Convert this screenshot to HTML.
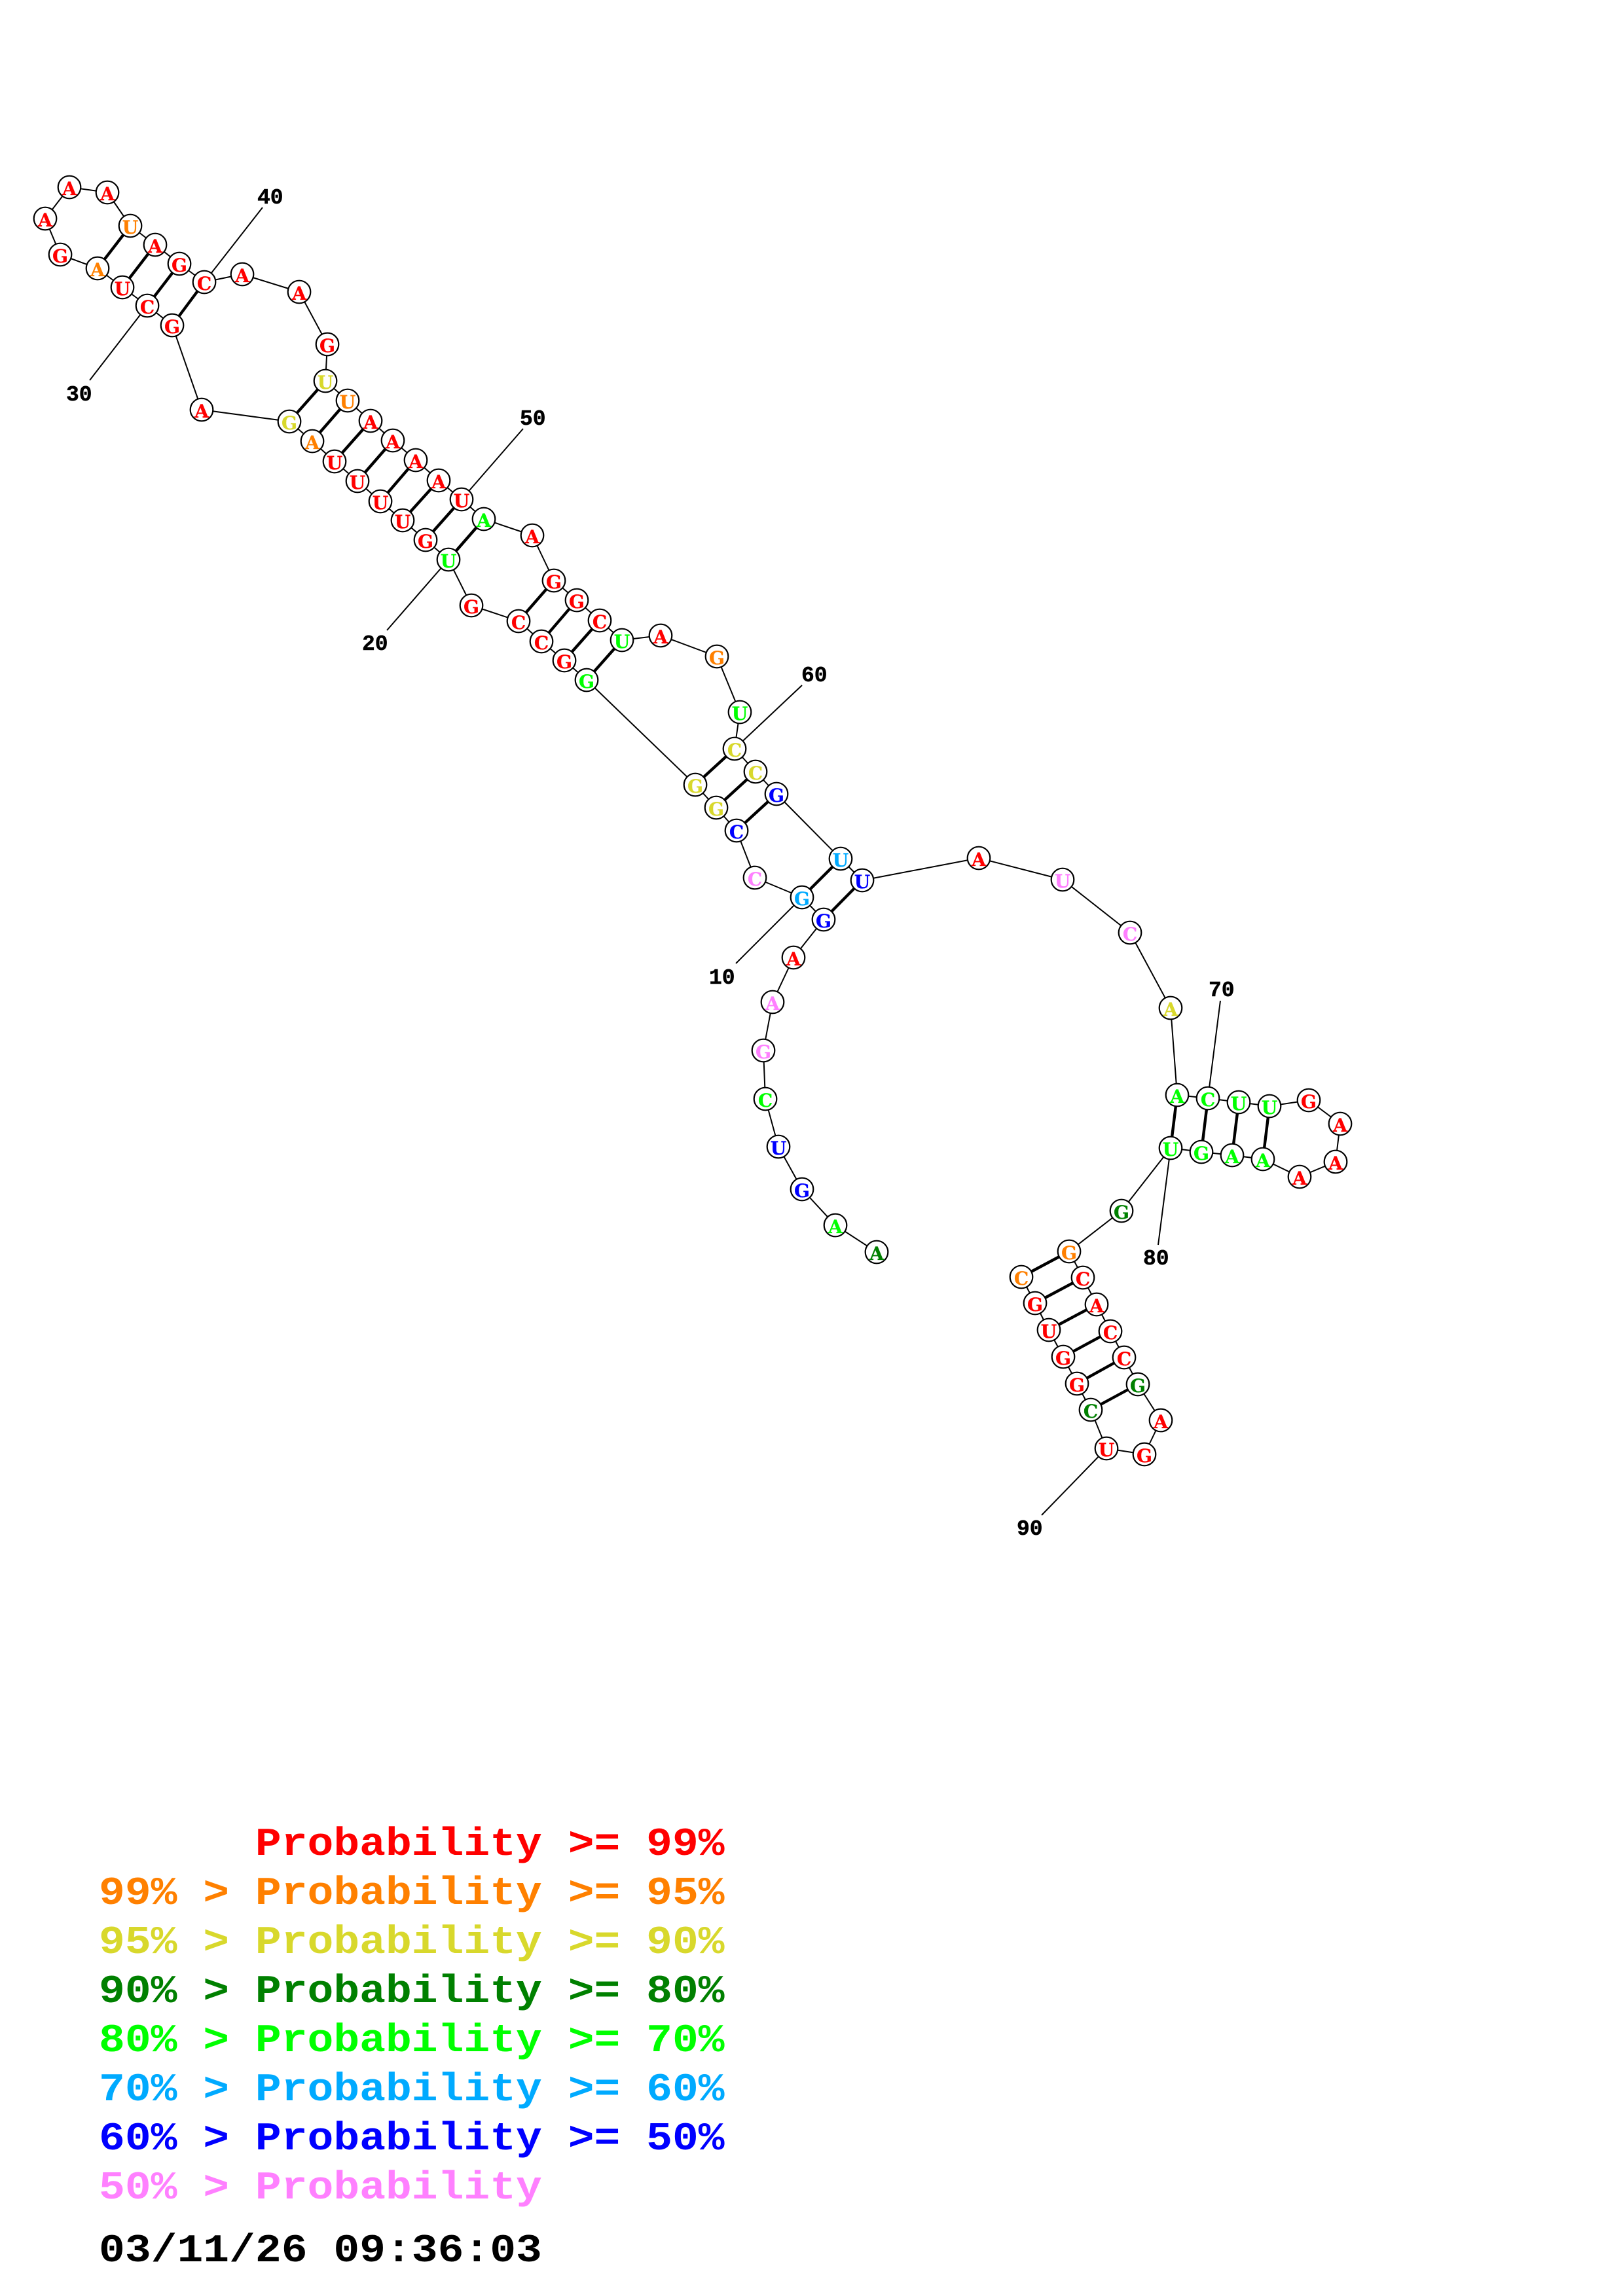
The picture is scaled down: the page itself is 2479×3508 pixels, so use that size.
<!DOCTYPE html>
<html>
<head>
<meta charset="utf-8">
<style>
html,body{margin:0;padding:0;background:#fff;}
svg{display:block;}
.thin{fill:none;stroke:#000;stroke-width:2;stroke-linejoin:round;}
.thick{fill:none;stroke:#000;stroke-width:4.4;}
.nodes circle{fill:#fff;stroke:#000;stroke-width:2.2;r:17.3px;}
.let text{font-family:"DejaVu Serif","Liberation Serif",serif;font-weight:bold;font-size:28px;text-anchor:middle;stroke-width:.3;}
.num text{font-family:"Liberation Mono",monospace;font-weight:bold;font-size:33px;fill:#000;stroke:#000;stroke-width:.5;}
.leg text{font-family:"Liberation Mono",monospace;font-weight:bold;font-size:60px;white-space:pre;}
.r{fill:#ff0000;stroke:#ff0000;}
.o{fill:#ff8000;stroke:#ff8000;}
.y{fill:#d8d82c;stroke:#d8d82c;}
.d{fill:#008000;stroke:#008000;}
.g{fill:#00ff00;stroke:#00ff00;}
.s{fill:#00aaff;stroke:#00aaff;}
.b{fill:#0000ff;stroke:#0000ff;}
.p{fill:#ff80ff;stroke:#ff80ff;}
</style>
</head>
<body>
<svg xmlns="http://www.w3.org/2000/svg" width="2479" height="3508" viewBox="0 0 2479 3508">
<rect width="2479" height="3508" fill="#fff"/>
<polyline class="thin" points="1339,1913 1276,1872 1225,1817 1189,1752 1169,1679 1166,1605 1180,1531 1212,1463 1258,1405 1225,1371 1153,1341 1125,1269 1094,1234 1062,1199 896,1039 862,1009 827,980 792,949 720,925 685,855 650,825 615,795 581,766 546,735 511,705 477,674 442,644 308,626 263,497 225,467 187,439 149,410 92,389 69,334 106,286 164,294 199,345 237,374 274,403 312,431 370,419 457,446 500,526 497,582 531,612 566,643 600,673 635,703 670,734 705,763 739,793 813,818 846,887 881,917 916,948 950,978 1009,971 1095,1003 1130,1088 1122,1144 1154,1179 1186,1213 1284,1312 1317,1345 1495,1311 1623,1344 1726,1425 1788,1540 1798,1673 1845,1678 1892,1684 1939,1690 1999,1681 2047,1717 2040,1775 1985,1798 1929,1771 1882,1765 1835,1760 1788,1754 1713,1850 1633,1912 1654,1952 1675,1993 1696,2034 1717,2074 1738,2115 1773,2170 1748,2222 1690,2213 1666,2154 1645,2114 1624,2073 1602,2032 1581,1991 1560,1951"/>
<path class="thin" d="M1225,1371L1124,1472M685,855L591,963M225,467L137,581M312,431L401,317M705,763L799,655M1122,1144L1225,1047M1845,1678L1864,1529M1788,1754L1769,1902M1690,2213L1591,2315"/>
<path class="thick" d="M1258,1405L1317,1345M1225,1371L1284,1312M1125,1269L1186,1213M1094,1234L1154,1179M1062,1199L1122,1144M896,1039L950,978M862,1009L916,948M827,980L881,917M792,949L846,887M685,855L739,793M650,825L705,763M615,795L670,734M581,766L635,703M546,735L600,673M511,705L566,643M477,674L531,612M442,644L497,582M263,497L312,431M225,467L274,403M187,439L237,374M149,410L199,345M1798,1673L1788,1754M1845,1678L1835,1760M1892,1684L1882,1765M1939,1690L1929,1771M1633,1912L1560,1951M1654,1952L1581,1991M1675,1993L1602,2032M1696,2034L1624,2073M1717,2074L1645,2114M1738,2115L1666,2154"/>
<g class="nodes">
<circle cx="1339" cy="1913" r="18"/><circle cx="1276" cy="1872" r="18"/><circle cx="1225" cy="1817" r="18"/><circle cx="1189" cy="1752" r="18"/><circle cx="1169" cy="1679" r="18"/><circle cx="1166" cy="1605" r="18"/><circle cx="1180" cy="1531" r="18"/><circle cx="1212" cy="1463" r="18"/><circle cx="1258" cy="1405" r="18"/><circle cx="1225" cy="1371" r="18"/><circle cx="1153" cy="1341" r="18"/><circle cx="1125" cy="1269" r="18"/><circle cx="1094" cy="1234" r="18"/><circle cx="1062" cy="1199" r="18"/><circle cx="896" cy="1039" r="18"/><circle cx="862" cy="1009" r="18"/><circle cx="827" cy="980" r="18"/><circle cx="792" cy="949" r="18"/><circle cx="720" cy="925" r="18"/><circle cx="685" cy="855" r="18"/><circle cx="650" cy="825" r="18"/><circle cx="615" cy="795" r="18"/><circle cx="581" cy="766" r="18"/><circle cx="546" cy="735" r="18"/><circle cx="511" cy="705" r="18"/><circle cx="477" cy="674" r="18"/><circle cx="442" cy="644" r="18"/><circle cx="308" cy="626" r="18"/><circle cx="263" cy="497" r="18"/><circle cx="225" cy="467" r="18"/><circle cx="187" cy="439" r="18"/><circle cx="149" cy="410" r="18"/><circle cx="92" cy="389" r="18"/><circle cx="69" cy="334" r="18"/><circle cx="106" cy="286" r="18"/><circle cx="164" cy="294" r="18"/><circle cx="199" cy="345" r="18"/><circle cx="237" cy="374" r="18"/><circle cx="274" cy="403" r="18"/><circle cx="312" cy="431" r="18"/><circle cx="370" cy="419" r="18"/><circle cx="457" cy="446" r="18"/><circle cx="500" cy="526" r="18"/><circle cx="497" cy="582" r="18"/><circle cx="531" cy="612" r="18"/><circle cx="566" cy="643" r="18"/><circle cx="600" cy="673" r="18"/><circle cx="635" cy="703" r="18"/><circle cx="670" cy="734" r="18"/><circle cx="705" cy="763" r="18"/><circle cx="739" cy="793" r="18"/><circle cx="813" cy="818" r="18"/><circle cx="846" cy="887" r="18"/><circle cx="881" cy="917" r="18"/><circle cx="916" cy="948" r="18"/><circle cx="950" cy="978" r="18"/><circle cx="1009" cy="971" r="18"/><circle cx="1095" cy="1003" r="18"/><circle cx="1130" cy="1088" r="18"/><circle cx="1122" cy="1144" r="18"/><circle cx="1154" cy="1179" r="18"/><circle cx="1186" cy="1213" r="18"/><circle cx="1284" cy="1312" r="18"/><circle cx="1317" cy="1345" r="18"/><circle cx="1495" cy="1311" r="18"/><circle cx="1623" cy="1344" r="18"/><circle cx="1726" cy="1425" r="18"/><circle cx="1788" cy="1540" r="18"/><circle cx="1798" cy="1673" r="18"/><circle cx="1845" cy="1678" r="18"/><circle cx="1892" cy="1684" r="18"/><circle cx="1939" cy="1690" r="18"/><circle cx="1999" cy="1681" r="18"/><circle cx="2047" cy="1717" r="18"/><circle cx="2040" cy="1775" r="18"/><circle cx="1985" cy="1798" r="18"/><circle cx="1929" cy="1771" r="18"/><circle cx="1882" cy="1765" r="18"/><circle cx="1835" cy="1760" r="18"/><circle cx="1788" cy="1754" r="18"/><circle cx="1713" cy="1850" r="18"/><circle cx="1633" cy="1912" r="18"/><circle cx="1654" cy="1952" r="18"/><circle cx="1675" cy="1993" r="18"/><circle cx="1696" cy="2034" r="18"/><circle cx="1717" cy="2074" r="18"/><circle cx="1738" cy="2115" r="18"/><circle cx="1773" cy="2170" r="18"/><circle cx="1748" cy="2222" r="18"/><circle cx="1690" cy="2213" r="18"/><circle cx="1666" cy="2154" r="18"/><circle cx="1645" cy="2114" r="18"/><circle cx="1624" cy="2073" r="18"/><circle cx="1602" cy="2032" r="18"/><circle cx="1581" cy="1991" r="18"/><circle cx="1560" cy="1951" r="18"/>
</g>
<g class="let">
<text x="1339" y="1925" class="d">A</text><text x="1276" y="1884" class="g">A</text><text x="1225" y="1829" class="b">G</text><text x="1189" y="1764" class="b">U</text><text x="1169" y="1691" class="g">C</text><text x="1166" y="1617" class="p">G</text><text x="1180" y="1543" class="p">A</text><text x="1212" y="1475" class="r">A</text><text x="1258" y="1417" class="b">G</text><text x="1225" y="1383" class="s">G</text><text x="1153" y="1353" class="p">C</text><text x="1125" y="1281" class="b">C</text><text x="1094" y="1246" class="y">G</text><text x="1062" y="1211" class="y">G</text><text x="896" y="1051" class="g">G</text><text x="862" y="1021" class="r">G</text><text x="827" y="992" class="r">C</text><text x="792" y="961" class="r">C</text><text x="720" y="937" class="r">G</text><text x="685" y="867" class="g">U</text><text x="650" y="837" class="r">G</text><text x="615" y="807" class="r">U</text><text x="581" y="778" class="r">U</text><text x="546" y="747" class="r">U</text><text x="511" y="717" class="r">U</text><text x="477" y="686" class="o">A</text><text x="442" y="656" class="y">G</text><text x="308" y="638" class="r">A</text><text x="263" y="509" class="r">G</text><text x="225" y="479" class="r">C</text><text x="187" y="451" class="r">U</text><text x="149" y="422" class="o">A</text><text x="92" y="401" class="r">G</text><text x="69" y="346" class="r">A</text><text x="106" y="298" class="r">A</text><text x="164" y="306" class="r">A</text><text x="199" y="357" class="o">U</text><text x="237" y="386" class="r">A</text><text x="274" y="415" class="r">G</text><text x="312" y="443" class="r">C</text><text x="370" y="431" class="r">A</text><text x="457" y="458" class="r">A</text><text x="500" y="538" class="r">G</text><text x="497" y="594" class="y">U</text><text x="531" y="624" class="o">U</text><text x="566" y="655" class="r">A</text><text x="600" y="685" class="r">A</text><text x="635" y="715" class="r">A</text><text x="670" y="746" class="r">A</text><text x="705" y="775" class="r">U</text><text x="739" y="805" class="g">A</text><text x="813" y="830" class="r">A</text><text x="846" y="899" class="r">G</text><text x="881" y="929" class="r">G</text><text x="916" y="960" class="r">C</text><text x="950" y="990" class="g">U</text><text x="1009" y="983" class="r">A</text><text x="1095" y="1015" class="o">G</text><text x="1130" y="1100" class="g">U</text><text x="1122" y="1156" class="y">C</text><text x="1154" y="1191" class="y">C</text><text x="1186" y="1225" class="b">G</text><text x="1284" y="1324" class="s">U</text><text x="1317" y="1357" class="b">U</text><text x="1495" y="1323" class="r">A</text><text x="1623" y="1356" class="p">U</text><text x="1726" y="1437" class="p">C</text><text x="1788" y="1552" class="y">A</text><text x="1798" y="1685" class="g">A</text><text x="1845" y="1690" class="g">C</text><text x="1892" y="1696" class="g">U</text><text x="1939" y="1702" class="g">U</text><text x="1999" y="1693" class="r">G</text><text x="2047" y="1729" class="r">A</text><text x="2040" y="1787" class="r">A</text><text x="1985" y="1810" class="r">A</text><text x="1929" y="1783" class="g">A</text><text x="1882" y="1777" class="g">A</text><text x="1835" y="1772" class="g">G</text><text x="1788" y="1766" class="g">U</text><text x="1713" y="1862" class="d">G</text><text x="1633" y="1924" class="o">G</text><text x="1654" y="1964" class="r">C</text><text x="1675" y="2005" class="r">A</text><text x="1696" y="2046" class="r">C</text><text x="1717" y="2086" class="r">C</text><text x="1738" y="2127" class="d">G</text><text x="1773" y="2182" class="r">A</text><text x="1748" y="2234" class="r">G</text><text x="1690" y="2225" class="r">U</text><text x="1666" y="2166" class="d">C</text><text x="1645" y="2126" class="r">G</text><text x="1624" y="2085" class="r">G</text><text x="1602" y="2044" class="r">U</text><text x="1581" y="2003" class="r">G</text><text x="1560" y="1963" class="o">C</text>
</g>
<g class="num">
<text x="1083" y="1503">10</text>
<text x="553" y="993">20</text>
<text x="101" y="612">30</text>
<text x="393" y="311">40</text>
<text x="794" y="649">50</text>
<text x="1224" y="1041">60</text>
<text x="1846" y="1522">70</text>
<text x="1746" y="1932">80</text>
<text x="1553" y="2345">90</text>
</g>
<g class="leg">
<text transform="translate(151,2834) scale(1.106,1)" class="r" style="stroke:none">      Probability &gt;= 99%</text>
<text transform="translate(151,2909) scale(1.106,1)" class="o" style="stroke:none">99% &gt; Probability &gt;= 95%</text>
<text transform="translate(151,2984) scale(1.106,1)" class="y" style="stroke:none">95% &gt; Probability &gt;= 90%</text>
<text transform="translate(151,3059) scale(1.106,1)" class="d" style="stroke:none">90% &gt; Probability &gt;= 80%</text>
<text transform="translate(151,3134) scale(1.106,1)" class="g" style="stroke:none">80% &gt; Probability &gt;= 70%</text>
<text transform="translate(151,3209) scale(1.106,1)" class="s" style="stroke:none">70% &gt; Probability &gt;= 60%</text>
<text transform="translate(151,3284) scale(1.106,1)" class="b" style="stroke:none">60% &gt; Probability &gt;= 50%</text>
<text transform="translate(151,3359) scale(1.106,1)" class="p" style="stroke:none">50% &gt; Probability</text>
<text transform="translate(151,3455) scale(1.106,1)" fill="#000">03/11/26 09:36:03</text>
</g>
</svg>
</body>
</html>
